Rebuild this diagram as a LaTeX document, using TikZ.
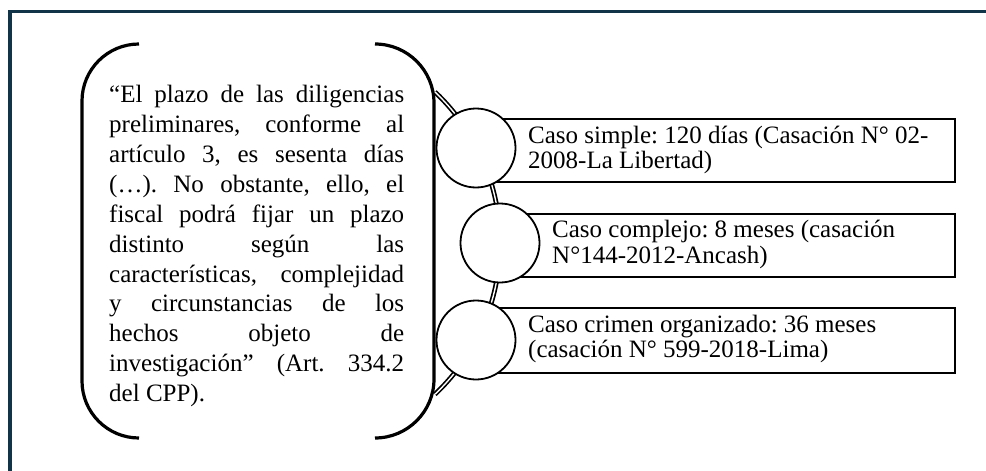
\documentclass[tikz,border=0pt]{standalone}
\usepackage{fontspec}
\setmainfont{Liberation Serif}
\frenchspacing
\definecolor{frame}{RGB}{18,52,72}
\begin{document}
\begin{tikzpicture}[x=1pt,y=-1pt,
  bracketline/.style={line width=3.2pt, line cap=butt},
  band/.style={draw=black, double=white, double distance=1.4pt, line width=1.7pt},
  disc/.style={circle, draw=black, line width=1.8pt, fill=white, minimum width=79pt, minimum height=79pt, inner sep=0pt},
  casebox/.style={rectangle, draw=black, line width=1.8pt, fill=white, anchor=north west, inner sep=0pt},
  txt/.style={anchor=base west, inner sep=0pt}]
\useasboundingbox (0,0) rectangle (986,471);
\fill[white] (0,0) rectangle (986,471);
% frame (top and left)
\draw[frame, line width=3.8pt] (10,471) -- (10,11.5) -- (986,11.5);
% bracket
\draw[bracketline] (139,44) arc[start angle=-90, end angle=-180, radius=57]
  -- (82,381) arc[start angle=180, end angle=90, radius=57];
\draw[bracketline] (375,44) arc[start angle=-90, end angle=0, radius=59]
  -- (434,379) arc[start angle=0, end angle=90, radius=59];
% arc band
\coordinate (atop) at (435,92);
\draw[band] (atop) arc[start angle=-46.6, end angle=46.6, radius=208];
% boxes
\node[casebox, minimum width=478pt, minimum height=63pt] (r1) at (476,118) {};
\node[casebox, minimum width=454pt, minimum height=63pt] (r2) at (500,213) {};
\node[casebox, minimum width=478pt, minimum height=65pt] (r3) at (476,307) {};
% circles
\node[disc] (c1) at (476,148) {};
\node[disc] (c2) at (500,243) {};
\node[disc] (c3) at (476,340) {};
% quote text
\node[txt] (quote) at (109,102) {\parbox[t]{295pt}{\fontsize{25}{30}\selectfont\setlength{\parindent}{0pt}%
\makebox[295pt][s]{“El plazo de las diligencias}\\
\makebox[295pt][s]{preliminares, conforme al}\\
\makebox[295pt][s]{artículo 3, es sesenta días}\\
\makebox[295pt][s]{(…). No obstante, ello, el}\\
\makebox[295pt][s]{fiscal podrá fijar un plazo}\\
\makebox[295pt][s]{distinto según las}\\
\makebox[295pt][s]{características, complejidad}\\
\makebox[295pt][s]{y circunstancias de los}\\
\makebox[295pt][s]{hechos objeto de}\\
\makebox[295pt][s]{investigación” (Art. 334.2}\\
del CPP).}};
% case texts
\node[txt] (t1) at (528,143) {\parbox[t]{420pt}{\raggedright\fontsize{25}{25.5}\selectfont Caso simple: 120 días (Casación N° 02-\\2008-La Libertad)}};
\node[txt] (t2) at (552,237.5) {\parbox[t]{400pt}{\raggedright\fontsize{25}{25.5}\selectfont Caso complejo: 8 meses (casación\\N°144-2012-Ancash)}};
\node[txt] (t3) at (528,332) {\parbox[t]{420pt}{\raggedright\fontsize{25}{25.5}\selectfont Caso crimen organizado: 36 meses\\(casación N° 599-2018-Lima)}};
\end{tikzpicture}
\end{document}
